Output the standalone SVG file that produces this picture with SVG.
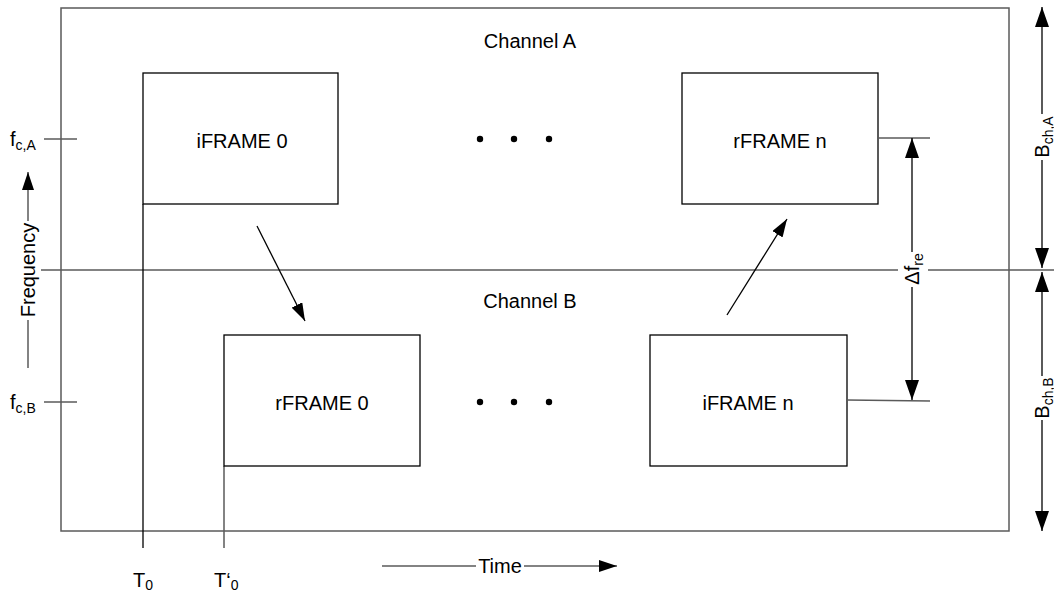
<svg xmlns="http://www.w3.org/2000/svg" width="1054" height="593" viewBox="0 0 1054 593">
<style>
text{font-family:"Liberation Sans",Arial,sans-serif;font-size:20px;fill:#000}
.sub{font-size:14px}
.box{fill:#fff;stroke:#000;stroke-width:1.3}
.g{stroke:#5a5a5a;stroke-width:1.5;fill:none}
.k{stroke:#000;stroke-width:1.3;fill:none}
.dot{fill:#000}
</style>
<defs>
<marker id="ab" markerUnits="userSpaceOnUse" markerWidth="20" markerHeight="14" refX="20" refY="7" orient="auto"><path d="M0,0 L20,7 L0,14 Z" fill="#000"/></marker>
<marker id="as" markerUnits="userSpaceOnUse" markerWidth="18" markerHeight="12" refX="18" refY="6" orient="auto"><path d="M0,0 L18,6 L0,12 Z" fill="#000"/></marker>
</defs>
<rect id="frame" x="61" y="8" width="948" height="523" class="g" fill="#fff"/>
<g id="axes">
<line x1="41" y1="270" x2="898" y2="270" class="g"/>
<line x1="928" y1="270" x2="1054" y2="270" class="g"/>
<line x1="44" y1="139" x2="77" y2="139" class="g"/>
<line x1="44" y1="402" x2="77" y2="402" class="g"/>
<line x1="143" y1="204" x2="143" y2="548" class="k"/>
<line x1="224" y1="466" x2="224" y2="548" class="g"/>
</g>
<text x="530" y="48" text-anchor="middle">Channel A</text>
<text x="530" y="308" text-anchor="middle">Channel B</text>
<g id="iframe0"><rect x="143" y="73" width="195" height="131" class="box"/><text x="242" y="148" text-anchor="middle">iFRAME 0</text></g>
<g id="rframen"><rect x="682" y="73" width="196" height="131" class="box"/><text x="780" y="148" text-anchor="middle">rFRAME n</text></g>
<g id="rframe0"><rect x="224" y="335" width="196" height="131" class="box"/><text x="322" y="410" text-anchor="middle">rFRAME 0</text></g>
<g id="iframen"><rect x="650" y="335" width="197" height="131" class="box"/><text x="748" y="410" text-anchor="middle">iFRAME n</text></g>
<g id="dots">
<circle cx="480" cy="139" r="3.2" class="dot"/><circle cx="514" cy="139" r="3.2" class="dot"/><circle cx="549" cy="139" r="3.2" class="dot"/>
<circle cx="480" cy="402" r="3.2" class="dot"/><circle cx="514" cy="402" r="3.2" class="dot"/><circle cx="549" cy="402" r="3.2" class="dot"/>
</g>
<g id="connectors">
<line x1="257" y1="226" x2="305" y2="321" class="k" marker-end="url(#as)"/>
<line x1="727" y1="315" x2="787" y2="219" class="k" marker-end="url(#as)"/>
<line x1="28" y1="221" x2="28" y2="172" class="g" marker-end="url(#as)"/>
<line x1="28" y1="320" x2="28" y2="368" class="g"/>
<line x1="382" y1="566" x2="476" y2="566" class="g"/>
<line x1="524" y1="566" x2="617" y2="566" class="g" marker-end="url(#as)"/>
<line x1="878" y1="138" x2="930" y2="138" class="g"/>
<line x1="847" y1="400" x2="930" y2="401" class="g"/>
<line x1="912" y1="252" x2="912" y2="138" class="k" marker-end="url(#ab)"/>
<line x1="912" y1="287" x2="912" y2="400" class="k" marker-end="url(#ab)"/>
<line x1="1042" y1="114" x2="1042" y2="7" class="k" marker-end="url(#ab)"/>
<line x1="1042" y1="160" x2="1042" y2="268" class="k" marker-end="url(#ab)"/>
<line x1="1042" y1="376" x2="1042" y2="272" class="k" marker-end="url(#ab)"/>
<line x1="1042" y1="420" x2="1042" y2="531" class="k" marker-end="url(#ab)"/>
</g>
<g id="labels">
<text x="10" y="146">f<tspan class="sub" dy="4">c,A</tspan></text>
<text x="10" y="409">f<tspan class="sub" dy="4">c,B</tspan></text>
<text x="35" y="270" text-anchor="middle" transform="rotate(-90 35 270)">Frequency</text>
<text x="500" y="573" text-anchor="middle">Time</text>
<text x="133" y="587">T<tspan class="sub" dy="3">0</tspan></text>
<text x="214" y="587">T‘<tspan class="sub" dy="3">0</tspan></text>
<text x="919" y="269" text-anchor="middle" transform="rotate(-90 919 269)">Δf<tspan class="sub" dy="4">re</tspan></text>
<text x="1049" y="137" text-anchor="middle" transform="rotate(-90 1049 137)">B<tspan class="sub" dy="4">ch,A</tspan></text>
<text x="1049" y="398" text-anchor="middle" transform="rotate(-90 1049 398)">B<tspan class="sub" dy="4">ch,B</tspan></text>
</g>
</svg>
